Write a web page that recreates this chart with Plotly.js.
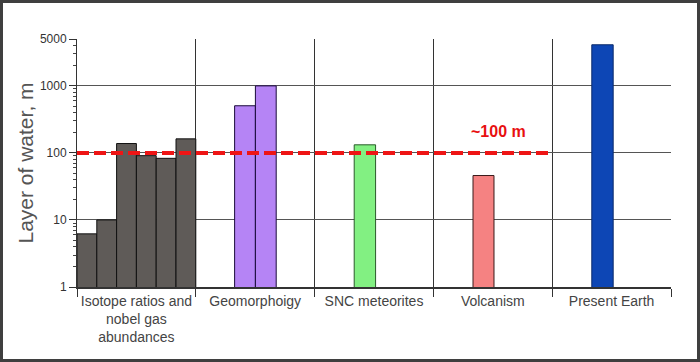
<!DOCTYPE html>
<html>
<head>
<meta charset="utf-8">
<script src="https://cdn.plot.ly/plotly-3.0.1.min.js"></script>
<style>
html,body{margin:0;padding:0;background:#fff;}
#chart{width:700px;height:362px;box-sizing:border-box;border:3px solid #3f3f3f;}
</style>
</head>
<body>
<div id="chart"></div>
<script>
// Category labels (x axis)
const categories = ["Isotope ratios and<br>nobel gas<br>abundances", "Geomorphoigy", "SNC meteorites", "Volcanism", "Present Earth"];
// Values (layer of water, m) per category
const isotopeValues = [6.2, 10, 138, 91, 83, 162];
const geomorphologyValues = [505, 1000];
const sncValues = [132];
const volcanismValues = [46];
const presentEarthValues = [4100];
// Reference level
const referenceLevel = 100;
const referenceLabel = "~100 m";
const yTickVals = [1, 10, 100, 1000, 5000];
const yTickText = ["1", "10", "100", "1000", "5000"];

// ---- layout helpers (positions/styles, not data) ----
const SLOTS = 6; // slots per category section
const groups = [
  {vals: isotopeValues, color: "#5f5b58", line: "#111", start: 0, width: 1},
  {vals: geomorphologyValues, color: "#b584f5", line: "#1a0a3a", start: 1.96, width: 1.05},
  {vals: sncValues, color: "#82f082", line: "#2a5a2a", start: 2.0, width: 1.08},
  {vals: volcanismValues, color: "#f58282", line: "#3a1a1a", start: 2.0, width: 1.06},
  {vals: presentEarthValues, color: "#0d46b5", line: "#0a2a6a", start: 2.0, width: 1.08}
];

const traces = [];
groups.forEach((g, gi) => {
  const xs = g.vals.map((v, i) => gi * SLOTS + g.start + g.width * (i + 0.5));
  traces.push({
    type: "bar",
    x: xs,
    y: g.vals,
    width: g.width,
    marker: {color: g.color, line: {color: g.line, width: 1}},
    hoverinfo: "y",
    showlegend: false
  });
});
// dashed reference line across first four sections
traces.push({
  type: "scatter",
  mode: "lines",
  x: [0, 4 * SLOTS],
  y: [referenceLevel, referenceLevel],
  line: {color: "#ee1515", width: 4, dash: "12px,5px"},
  hoverinfo: "skip",
  showlegend: false
});

const minorY = [];
[1, 10, 100, 1000].forEach(d => { for (let k = 2; k <= 9; k++) { if (d * k <= 5000) minorY.push(d * k); } });

const layout = {
  width: 694,
  height: 356,
  margin: {l: 74, r: 26, t: 36, b: 72},
  paper_bgcolor: "#fff",
  plot_bgcolor: "#fff",
  bargap: 0,
  font: {family: "Liberation Sans Narrow, Arial Narrow, Liberation Sans, Arial, sans-serif", color: "#333"},
  xaxis: {
    range: [0, 5 * SLOTS],
    tickmode: "array",
    tickvals: categories.map((c, i) => i * SLOTS + SLOTS / 2),
    ticktext: categories,
    ticks: "",
    showgrid: false,
    zeroline: false,
    showline: true,
    linecolor: "#333",
    linewidth: 2,
    tickfont: {size: 14, color: "#444"},
    minor: {
      tickmode: "array",
      tickvals: [0, 6, 12, 18, 24, 30],
      ticks: "outside",
      ticklen: 8,
      tickcolor: "#333",
      showgrid: true,
      gridcolor: "#333",
      gridwidth: 1
    },
    fixedrange: true
  },
  yaxis: {
    type: "log",
    range: [0, Math.log10(5000)],
    tickmode: "array",
    tickvals: yTickVals,
    ticktext: yTickText,
    ticks: "outside",
    ticklen: 7,
    tickcolor: "#333",
    showgrid: true,
    gridcolor: "#555",
    gridwidth: 1,
    showline: true,
    linecolor: "#333",
    linewidth: 1,
    zeroline: false,
    tickfont: {size: 12, color: "#333"},
    minor: {
      tickmode: "array",
      tickvals: minorY,
      ticks: "outside",
      ticklen: 3,
      tickcolor: "#444",
      showgrid: false
    },
    title: {
      text: "Layer of water, m",
      font: {family: "Liberation Sans, Arial, sans-serif", size: 21, color: "#555"},
      standoff: 0
    },
    fixedrange: true
  },
  annotations: [{
    x: 3 * SLOTS + 3.3,
    y: Math.log10(referenceLevel),
    xref: "x",
    yref: "y",
    yshift: 21,
    text: "<b>" + referenceLabel + "</b>",
    showarrow: false,
    font: {family: "Liberation Sans Narrow, Arial Narrow, Liberation Sans, Arial, sans-serif", size: 16, color: "#e81010"}
  }]
};

Plotly.newPlot("chart", traces, layout, {displayModeBar: false, staticPlot: true});
</script>
</body>
</html>
